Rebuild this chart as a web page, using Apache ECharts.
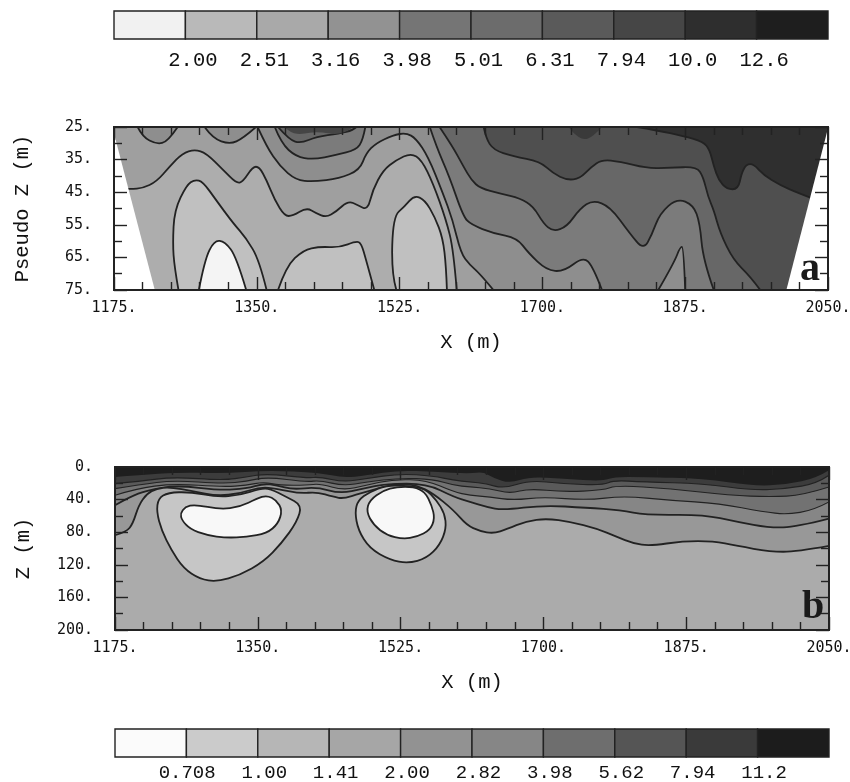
<!DOCTYPE html>
<html><head><meta charset="utf-8">
<style>html,body{margin:0;padding:0;background:#fff}#c{width:850px;height:782px;filter:blur(0.6px)}</style>
<script src="https://cdn.jsdelivr.net/npm/echarts@6/dist/echarts.min.js"></script>
</head><body><div id="c"></div>
<script>
// Tick values
const xMajor=[1175,1350,1525,1700,1875,2050];
const xMinor=[1210,1245,1280,1315,1385,1420,1455,1490,1560,1595,1630,1665,1735,1770,1805,1840,1910,1945,1980,2015];
const aZMajor=[25,35,45,55,65,75];
const aZMinor=[30,40,50,60,70];
const bZMajor=[0,40,80,120,160,200];
const bZMinor=[20,60,100,140,180];
// Colour bars
const topBarLabels=['2.00','2.51','3.16','3.98','5.01','6.31','7.94','10.0','12.6'];
const bottomBarLabels=['0.708','1.00','1.41','2.00','2.82','3.98','5.62','7.94','11.2'];
const topBarGreys=['#f1f1f1','#b9b9b9','#a9a9a9','#929292','#757575','#6c6c6c','#5a5a5a','#464646','#2e2e2e','#1e1e1e'];
const bottomBarGreys=['#fbfbfb','#cbcbcb','#b6b6b6','#a6a6a6','#929292','#868686','#6e6e6e','#555555','#3a3a3a','#1c1c1c'];
// Panel a contours [X, pseudo Z]
const aFrame=[[1175,25],[2050,25],[2050,75],[1175,75]];
const aDarkest=[[1816,25],[1840,26],[1873,27.8],[1897,29.5],[1905,32],[1910,37],[1916,41.3],[1926,44.1],[1940,44.1],[1944,39.2],[1950,36.4],[1959,36.4],[1971,39.7],[1991,42.8],[2014,45.3],[2030,46.8]];
const aTopBlob=[[1732,25],[1738,27],[1750,29],[1762,28],[1773,25]];
const aLine9=[[1628,25],[1631,28.5],[1640,32],[1664,34],[1697,35.6],[1713,39.2],[1730,41.3],[1746,40.8],[1760,37.2],[1773,35],[1795,35.6],[1828,37.7],[1856,37.5],[1889,37.2],[1897,40.2],[1903,46.4],[1910,50.5],[1918,57.6],[1934,65.8],[1955,70.9],[1967,75]];
const aLine8=[[1574,25],[1590,31],[1603,37],[1613,41.3],[1624,43.8],[1648,45.4],[1673,46.9],[1689,49.4],[1701,54.5],[1713,57.1],[1730,55.6],[1746,50],[1762,47.4],[1783,49.4],[1807,57.6],[1824,62.7],[1834,58.1],[1844,51.5],[1865,46.9],[1885,48.9],[1893,54.5],[1897,65.8],[1910,75]];
const aLine7=[[1562,25],[1570,31],[1586,40.2],[1603,52.5],[1613,55],[1640,57.6],[1669,59.1],[1683,63.7],[1705,68.9],[1726,69.4],[1750,64.8],[1762,67.8],[1773,75]];
const aTongue=[[1842,75],[1861,66.8],[1869,61.7],[1873,61.9],[1875,75]];
const aLine6=[[1351,25],[1362,31],[1378,37],[1398,41.3],[1419,41.8],[1451,40.8],[1476,38.2],[1484,33],[1496,30],[1517,27.5],[1533,26.8],[1545,28.5],[1560,34.1],[1578,45.3],[1590,53.5],[1600,63.7],[1611,67.3],[1623,69.9],[1640,75]];
const aBlobLeft=[[1204,25],[1210,28],[1227,30.3],[1241,29.5],[1253,25]];
const aBlobMid=[[1286,25],[1296,28.5],[1317,30.3],[1333,28.5],[1349,25]];
const aPeakOuter=[[1372,25],[1380,30],[1398,34.1],[1419,35],[1447,33.6],[1472,32],[1480,29],[1483,25]];
const aPeakInner=[[1376,25],[1390,29],[1404,30],[1423,28],[1451,27],[1468,26],[1472,25]];
const aPeakCore=[[1384,25],[1392,27],[1407,27.2],[1423,26.4],[1456,27.6],[1468,25]];
const aLine5=[[1175,44],[1196,44],[1210,43.8],[1227,41.8],[1243,37.2],[1259,33],[1274,31.9],[1288,33],[1309,38.2],[1325,42.3],[1333,41.8],[1345,37.2],[1353,37.2],[1362,41.3],[1372,47.4],[1384,52.3],[1394,52.3],[1411,49.7],[1423,51.5],[1435,52.7],[1447,51],[1462,47.6],[1474,49],[1486,50.5],[1492,44.3],[1505,38.2],[1521,35.1],[1539,33],[1552,35.1],[1566,42.3],[1582,53.5],[1591,62.7],[1595,75]];
const aLobeA=[[1254,75],[1249,67.8],[1247,60.7],[1249,50.5],[1264,42.8],[1274,41.1],[1284,41.8],[1300,47.4],[1321,54.5],[1337,59.1],[1353,65.8],[1362,75]];
const aLobeB=[[1376,75],[1386,67.8],[1407,62.7],[1427,61.7],[1451,62],[1472,60],[1478,60.7],[1484,65.8],[1494,75]];
const aLobeC=[[1521,75],[1515,69.9],[1517,52.5],[1531,49.4],[1543,45.9],[1556,47.4],[1568,52.5],[1578,59.1],[1582,67.8],[1583,75]];
const aLobeWhite=[[1279,75],[1286,65.8],[1298,59.7],[1311,60.2],[1325,64.8],[1337,75]];
const aWedgeLeft=[[1175,27],[1225,75],[1175,75]];
const aWedgeRight=[[2050,25.4],[1999,75],[2050,75]];
// Panel b contours [X, Z]
const bFrame=[[1175,0],[2050,0],[2050,200],[1175,200]];
const bLine0=[[1175,12.2],[1246,6],[1308,8.2],[1361,4],[1426,7],[1455,13.5],[1483,10.2],[1524,4],[1565,6],[1610,8.2],[1626,6],[1639,13.5],[1659,20],[1683,12],[1724,14.3],[1773,17.5],[1786,12.2],[1822,12.2],[1896,14.3],[1957,23.3],[1998,21.6],[2035,13.5],[2050,4]];
const bLine1=[[1175,20.4],[1206,17.5],[1246,12.2],[1308,16.3],[1336,12.2],[1361,8.2],[1410,13.5],[1426,12.2],[1455,18.4],[1483,14.3],[1524,8.2],[1565,11],[1590,16.3],[1610,18.4],[1630,20.4],[1651,26.5],[1683,16.3],[1724,20.4],[1773,22.4],[1786,16.3],[1822,18.4],[1896,20.4],[1957,28.6],[1998,26.5],[2035,20.4],[2050,10.2]];
const bLine2=[[1175,26.5],[1206,21.6],[1246,16.3],[1308,20.4],[1336,17.5],[1361,12.2],[1410,18.4],[1426,16.3],[1455,23.3],[1483,18.4],[1524,13.5],[1565,15],[1590,22.4],[1610,24.5],[1634,26.5],[1659,32.6],[1683,26.5],[1724,30.6],[1773,28.6],[1790,22.4],[1855,26.5],[1929,34.7],[1978,36.7],[2018,34.7],[2050,24.5]];
const bLine3=[[1175,34.7],[1201,26.5],[1246,20.4],[1308,24.5],[1336,22.4],[1357,18.4],[1377,22.4],[1410,22.4],[1426,20.4],[1455,28.6],[1483,22.4],[1516,15],[1557,16.3],[1590,30.6],[1610,34.7],[1634,36.7],[1663,40.8],[1700,36.7],[1753,40.8],[1798,35.5],[1855,40.8],[1916,44.9],[1970,55],[1998,58.3],[2031,53],[2050,42.8]];
const bLine4=[[1175,46.9],[1193,36.7],[1214,28.6],[1251,22.4],[1304,28.6],[1336,26.5],[1357,20.4],[1373,22.4],[1393,27.7],[1422,24.5],[1451,32.6],[1479,26.5],[1508,20.4],[1557,20.4],[1590,36.7],[1610,42.8],[1630,49],[1651,53],[1700,46.9],[1753,50],[1794,53],[1826,59],[1896,58.3],[1937,67.3],[1978,74.7],[2010,73.4],[2050,63.2]];
const bLine5=[[1175,83.6],[1189,79.6],[1197,69.4],[1204,46.9],[1214,32.6],[1226,26.5],[1242,24.5],[1271,29.8],[1300,35.5],[1328,32.6],[1353,24.5],[1373,26.5],[1402,32.6],[1422,30.6],[1443,36.7],[1455,38.8],[1475,32.6],[1512,22.4],[1524,20.4],[1545,22.4],[1565,32.6],[1590,53],[1606,71.4],[1622,78.7],[1639,81.6],[1655,76.3],[1679,66.5],[1704,63.2],[1733,67.3],[1765,75.5],[1790,85.7],[1810,93.8],[1831,96.7],[1871,91],[1908,91],[1937,96.7],[1978,104],[2010,104],[2050,96.7]];
const bLoopLeftOuter=[[1226,55],[1228,38.8],[1240,31.4],[1267,30.6],[1300,36.7],[1328,34.7],[1353,26.5],[1365,26.5],[1385,36.7],[1404,46.9],[1398,67.3],[1379,93.8],[1357,116.3],[1328,132.6],[1300,140.8],[1279,137.5],[1259,124.4],[1244,102],[1232,77.5]];
const bLoopLeftInner=[[1255,57],[1261,49],[1273,46],[1304,52],[1328,49],[1349,38.8],[1361,34.7],[1373,40.8],[1380,53],[1375,69.4],[1361,81.6],[1336,85.7],[1312,87],[1287,83.6],[1267,76.3],[1257,65.3]];
const bLoopRightOuter=[[1469,55],[1473,40.8],[1487,30.6],[1508,22.4],[1536,23.3],[1555,26.5],[1569,40.8],[1579,57],[1581,75.5],[1573,95.9],[1557,112],[1534,118.3],[1512,114],[1487,100],[1473,77.5]];
const bLoopRightInner=[[1483,55],[1487,40.8],[1504,28.6],[1520,24.5],[1541,24.5],[1555,30.6],[1563,46.9],[1567,63.2],[1561,77.5],[1545,85.7],[1528,88.5],[1508,83.6],[1492,71.4]];

const INK='#222222';
const aBL=[[1175,75],[1175,25]];
const bBot=[[2050,200],[1175,200]];
// Regions are painted from darkest to lightest, each one covering what lies under its contour.
const panelA=[
 {p:aFrame,fill:'#2f2f2f',noLine:true,straight:true},
 {p:aDarkest,close:[[2050,46.8],[2050,75],[1175,75],[1175,25]],fill:'#4f4f4f'},
 {p:aTopBlob,fill:'#3a3a3a',noLine:true},
 {p:aLine9,close:aBL,fill:'#676767'},
 {p:aLine8,close:aBL,fill:'#7b7b7b'},
 {p:aLine7,close:aBL,fill:'#8e8e8e'},
 {p:aTongue,fill:'#8e8e8e'},
 {p:aLine6,close:aBL,fill:'#9f9f9f'},
 {p:aBlobLeft,fill:'#8e8e8e'},
 {p:aBlobMid,fill:'#8e8e8e'},
 {p:aPeakOuter,fill:'#7b7b7b'},
 {p:aPeakInner,fill:'#666666'},
 {p:aPeakCore,fill:'#454545',noLine:true},
 {p:aLine5,close:[[1175,75]],fill:'#adadad'},
 {p:aLobeA,fill:'#c0c0c0'},
 {p:aLobeB,fill:'#c0c0c0'},
 {p:aLobeC,fill:'#c0c0c0'},
 {p:aLobeWhite,fill:'#f4f4f4'},
 {p:aWedgeLeft,fill:'#ffffff',noLine:true,straight:true},
 {p:aWedgeRight,fill:'#ffffff',noLine:true,straight:true}
];
const panelB=[
 {p:bFrame,fill:'#1e1e1e',noLine:true,straight:true},
 {p:bLine0,close:bBot,fill:'#3c3c3c',noLine:true},
 {p:bLine1,close:bBot,fill:'#5a5a5a',thin:true},
 {p:bLine2,close:bBot,fill:'#727272',thin:true},
 {p:bLine3,close:bBot,fill:'#868686',thin:true},
 {p:bLine4,close:bBot,fill:'#989898'},
 {p:bLine5,close:bBot,fill:'#ababab'},
 {p:bLoopLeftOuter,loop:true,fill:'#c6c6c6'},
 {p:bLoopRightOuter,loop:true,fill:'#c6c6c6'},
 {p:bLoopLeftInner,loop:true,fill:'#f8f8f8'},
 {p:bLoopRightInner,loop:true,fill:'#f8f8f8'}
];
function pathOf(r,api){
  const c=r.p.map(q=>api.coord(q));const n=c.length;
  const m=(a,b)=>[(a[0]+b[0])/2,(a[1]+b[1])/2];
  let d='';
  if(r.loop){
    const s=m(c[n-1],c[0]);d='M'+s[0]+' '+s[1];
    for(let i=0;i<n;i++){const e=m(c[i],c[(i+1)%n]);d+='Q'+c[i][0]+' '+c[i][1]+' '+e[0]+' '+e[1];}
    return d+'Z';
  }
  d='M'+c[0][0]+' '+c[0][1];
  if(r.straight){for(let i=1;i<n;i++)d+='L'+c[i][0]+' '+c[i][1];return d+'Z';}
  for(let i=1;i<n-1;i++){const e=i<n-2?m(c[i],c[i+1]):c[n-1];d+='Q'+c[i][0]+' '+c[i][1]+' '+e[0]+' '+e[1];}
  (r.close||[]).forEach(q=>{const k=api.coord(q);d+='L'+k[0]+' '+k[1];});
  return d+'Z';
}
function regionSeries(regions,idx){
  return {type:'custom',coordinateSystem:'cartesian2d',xAxisIndex:idx,yAxisIndex:idx,z:2,silent:true,animation:false,clip:true,
    data:regions.map((r,i)=>[r.p[0][0],r.p[0][1],i]),
    renderItem(params,api){
      const r=regions[api.value(2)];
      return {type:'path',shape:{pathData:pathOf(r,api)},style:{fill:r.fill,stroke:r.noLine?null:INK,lineWidth:r.noLine?0:(r.thin?1.1:1.8)}};
    }};
}
function barSeries(greys,idx){
  return {type:'custom',coordinateSystem:'cartesian2d',xAxisIndex:idx,yAxisIndex:idx,z:2,silent:true,animation:false,
    data:greys.map((g,i)=>[i,0]),
    renderItem(params,api){
      const i=api.value(0);const a=api.coord([i,1]);const b=api.coord([i+1,0]);
      return {type:'rect',shape:{x:a[0],y:a[1],width:b[0]-a[0],height:b[1]-a[1]},style:{fill:greys[i],stroke:INK,lineWidth:1.4}};
    }};
}
const grids=[],xAxes=[],yAxes=[];
const ticksOnly=(pos,len,vals,extra)=>Object.assign({type:'value',position:pos,z:10,splitLine:{show:false},
  axisLine:{show:true,onZero:false,lineStyle:{color:INK,width:1.8}},
  axisTick:{show:true,inside:true,length:len,customValues:vals,lineStyle:{color:INK,width:1.4}},
  axisLabel:{show:false}},extra);
const labelStyle={show:true,color:'#111',fontFamily:'DejaVu Sans Mono',fontSize:15};
const nameStyle={color:'#111',fontFamily:'Liberation Mono',fontSize:20.5};
function addPanel(top,left,h,zMin,zMax,zMaj,zMin2,yName,yGap){
  const g=grids.length;
  grids.push({left,top,width:714,height:h,outerBoundsMode:'none'});
  return {g,xb:{min:1175,max:2050,gridIndex:g},yb:{min:zMin,max:zMax,inverse:true,gridIndex:g},zMaj,zMin2,yName,yGap};
}
function buildPanel(P,regions){
  const xi=xAxes.length,yi=yAxes.length;
  xAxes.push(ticksOnly('bottom',13,xMajor,Object.assign({},P.xb,{name:'X (m)',nameLocation:'middle',nameGap:42,nameTextStyle:nameStyle,
    axisLabel:Object.assign({},labelStyle,{margin:11,customValues:xMajor,formatter:v=>v+'.'})})));
  xAxes.push(ticksOnly('bottom',8,xMinor,P.xb));
  xAxes.push(ticksOnly('top',13,xMajor,P.xb));
  xAxes.push(ticksOnly('top',8,xMinor,P.xb));
  yAxes.push(ticksOnly('left',13,P.zMaj,Object.assign({},P.yb,{name:P.yName,nameLocation:'middle',nameGap:P.yGap,nameTextStyle:nameStyle,
    axisLabel:Object.assign({},labelStyle,{margin:22,customValues:P.zMaj,formatter:v=>v+'.'})})));
  yAxes.push(ticksOnly('left',8,P.zMin2,P.yb));
  yAxes.push(ticksOnly('right',13,P.zMaj,P.yb));
  yAxes.push(ticksOnly('right',8,P.zMin2,P.yb));
  const s=regionSeries(regions,xi);s.yAxisIndex=yi;return s;
}
function buildBar(top,left,h,labels,greys,offset,fontSize,margin){
  const g=grids.length,xi=xAxes.length,yi=yAxes.length;
  grids.push({left,top,width:714,height:h,outerBoundsMode:'none'});
  xAxes.push({type:'value',gridIndex:g,min:0,max:10,position:'bottom',show:true,splitLine:{show:false},axisLine:{show:false},axisTick:{show:false},z:10,
    axisLabel:{show:true,align:'right',margin,color:'#111',fontFamily:'Liberation Mono',fontSize,
      customValues:labels.map((l,i)=>i+1+offset),formatter:v=>labels[Math.round(v-offset)-1]}});
  yAxes.push({type:'value',gridIndex:g,min:0,max:1,show:false});
  const s=barSeries(greys,xi);s.yAxisIndex=yi;return s;
}
const series=[];
series.push(buildBar(11,114,28,topBarLabels,topBarGreys,0.45,20.5,11));
series.push(buildPanel(addPanel(127,114,163,25,75,aZMajor,aZMinor,'Pseudo Z (m)',81),panelA));
series.push(buildPanel(addPanel(467,115,163,0,200,bZMajor,bZMinor,'Z (m)',81),panelB));
series.push(buildBar(729,115,28,bottomBarLabels,bottomBarGreys,0.41,19,6));
const letter=(t,x,y)=>({type:'text',left:x,top:y,z:100,style:{text:t,fill:'#1a1a1a',font:'bold 40px "Liberation Serif"'}});
const chart=echarts.init(document.getElementById('c'),null,{renderer:'canvas'});
chart.setOption({backgroundColor:'#fff',animation:false,grid:grids,xAxis:xAxes,yAxis:yAxes,series,
  graphic:[letter('a',800,250),letter('b',802,588)]});
</script></body></html>
